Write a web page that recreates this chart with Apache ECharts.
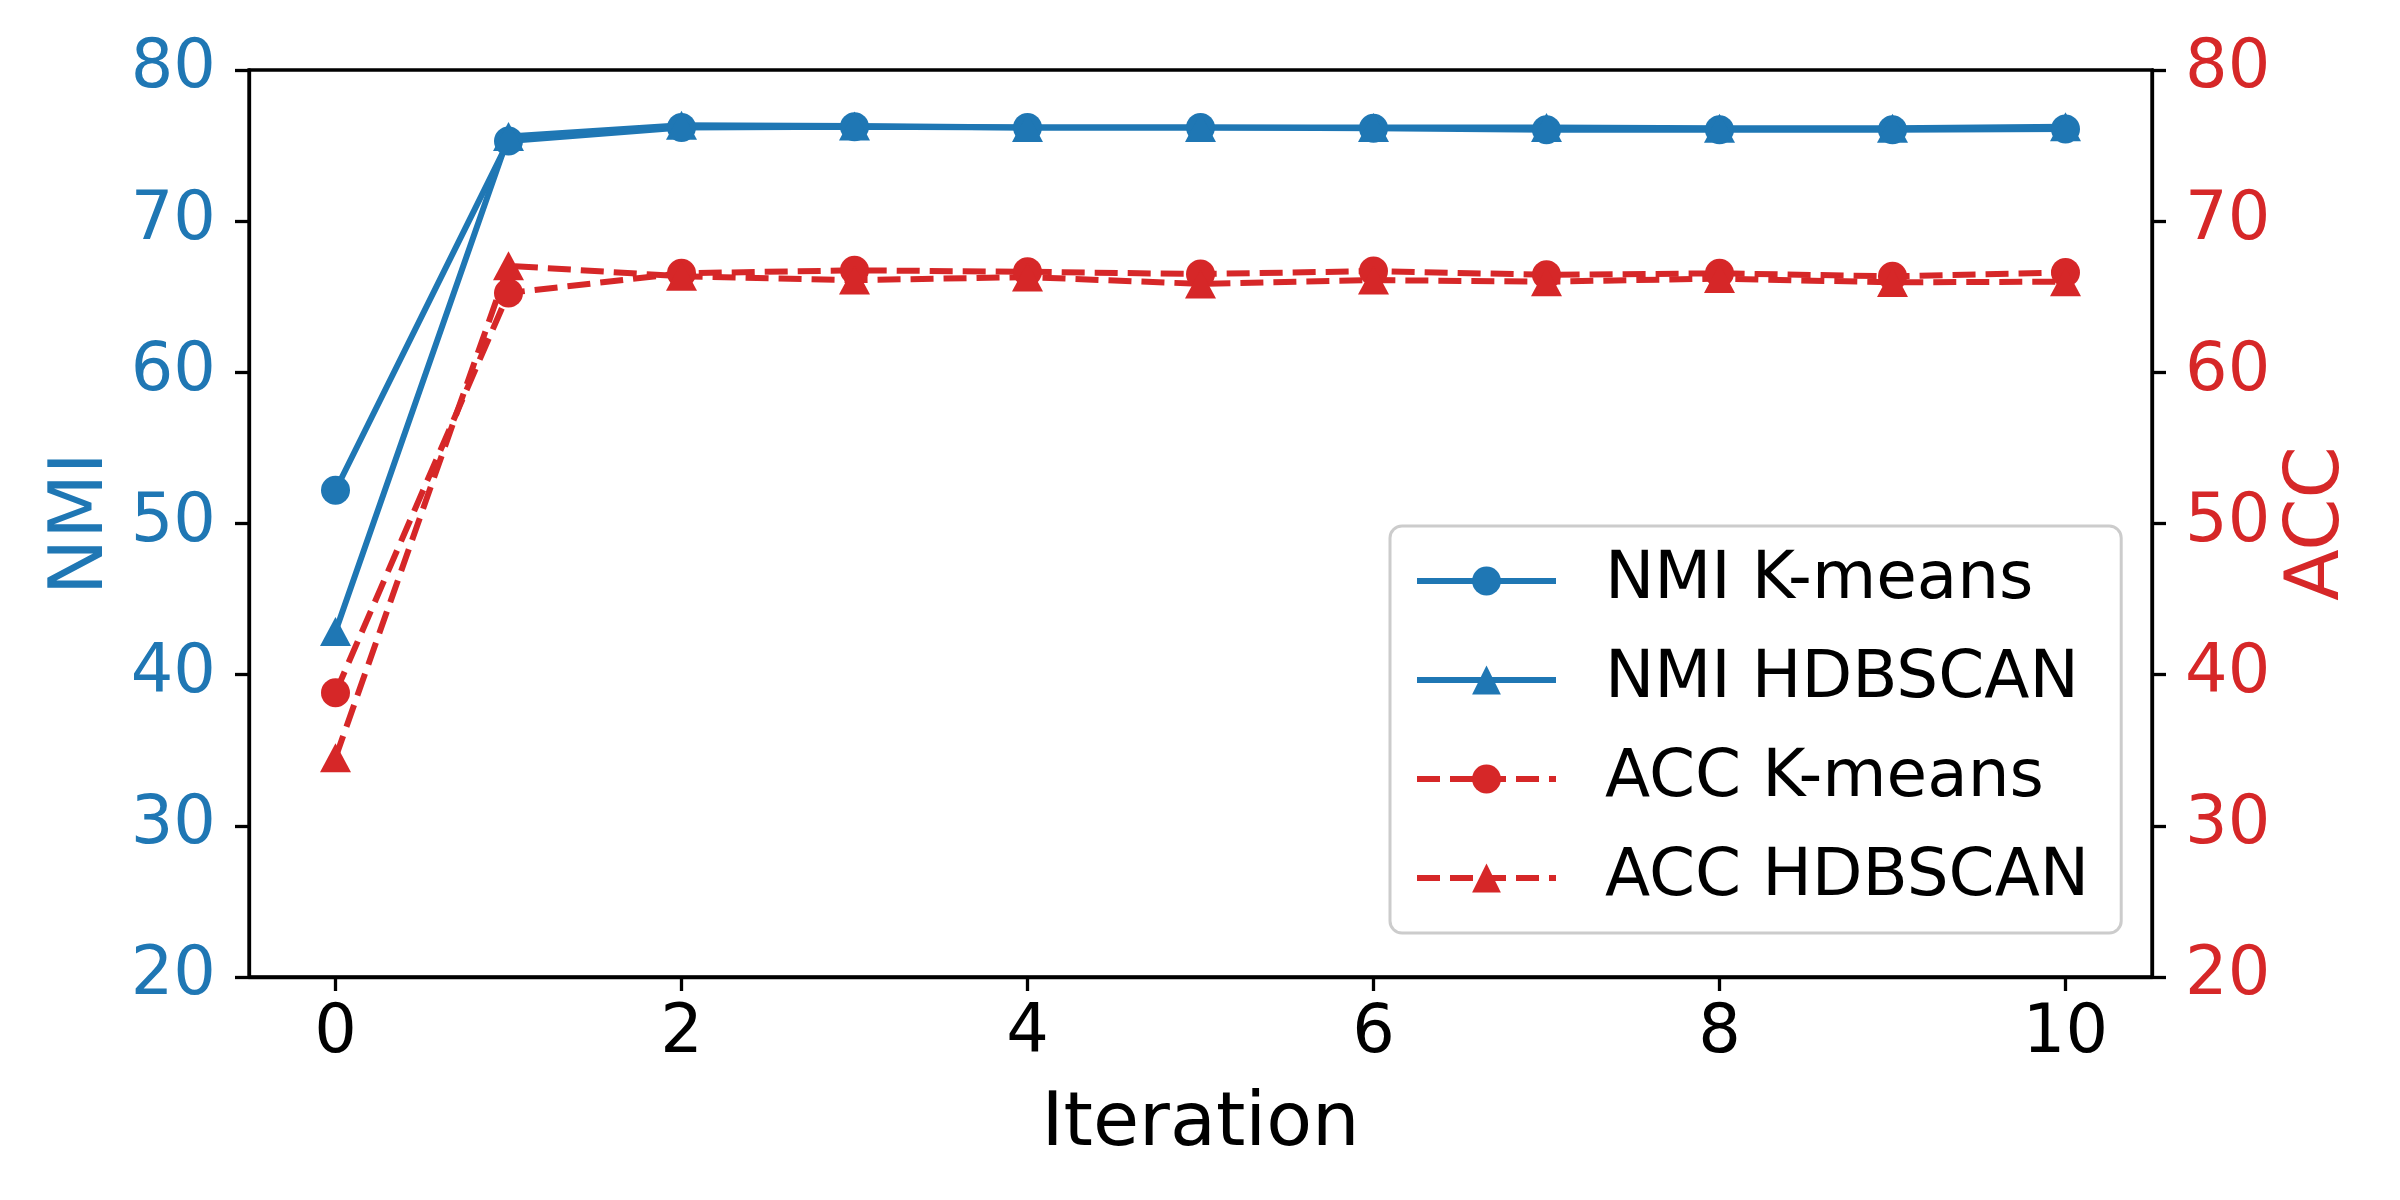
<!DOCTYPE html>
<html>
<head>
<meta charset="utf-8">
<script src="https://cdn.jsdelivr.net/npm/echarts@6/dist/echarts.min.js"></script>
<style>
html,body{margin:0;padding:0;background:#fff;}
#chart{width:2400px;height:1200px;}
</style>
</head>
<body>
<div id="chart"></div>
<script>
const iterations = ['0','1','2','3','4','5','6','7','8','9','10'];
const nmiKmeans  = [52.2, 75.3, 76.2, 76.25, 76.2, 76.2, 76.15, 76.05, 76.05, 76.05, 76.1];
const nmiHdbscan = [42.85, 75.6, 76.35, 76.3, 76.2, 76.2, 76.2, 76.2, 76.15, 76.15, 76.25];
const accKmeans  = [38.8, 65.25, 66.55, 66.75, 66.65, 66.5, 66.7, 66.45, 66.55, 66.35, 66.6];
const accHdbscan = [34.5, 67.05, 66.35, 66.1, 66.3, 65.85, 66.1, 66.0, 66.2, 65.95, 66.0];
const yTicks = [20, 30, 40, 50, 60, 70, 80];

const BLUE = '#1f77b4', RED = '#d62728';
const FONT = 'DejaVu Sans';
const chart = echarts.init(document.getElementById('chart'));

function yAxis(side, color, name) {
  return {
    type: 'value', position: side, min: yTicks[0], max: yTicks[yTicks.length-1], interval: 10,
    name: name, nameLocation: 'middle', nameGap: side === 'left' ? 116 : 115,
    nameTextStyle: {color: color, fontSize: 75, fontFamily: FONT},
    axisLine: {show: true, lineStyle: {color: '#000', width: 3.3}},
    axisTick: {show: true, length: 14, lineStyle: {color: '#000', width: 3.3}},
    axisLabel: {color: color, fontSize: 67, fontFamily: FONT, margin: 33},
    splitLine: {show: false}
  };
}

const lineW = 6;
function series(name, data, yIdx, color, symbol, dashed) {
  return {
    name: name, type: 'line', data: data, yAxisIndex: yIdx,
    symbol: symbol, symbolSize: symbol === 'circle' ? 29 : [31, 29],
    showAllSymbol: true,
    itemStyle: {color: color},
    lineStyle: {color: color, width: lineW, type: dashed ? [23, 10] : 'solid', cap: 'butt'},
    emphasis: {disabled: true}, animation: false
  };
}

chart.setOption({
  animation: false,
  backgroundColor: '#fff',
  grid: {left: 249, right: 248, top: 70, bottom: 223, show: true, borderColor: '#000', borderWidth: 3.3, backgroundColor: 'transparent'},
  xAxis: {
    type: 'category', data: iterations, boundaryGap: true,
    name: 'Iteration', nameLocation: 'middle', nameGap: 111,
    nameTextStyle: {color: '#000', fontSize: 75, fontFamily: FONT},
    axisLine: {show: true, lineStyle: {color: '#000', width: 3.3}},
    axisTick: {show: true, alignWithLabel: true, interval: 1, length: 14, lineStyle: {color: '#000', width: 3.3}},
    axisLabel: {interval: 1, color: '#000', fontSize: 67, fontFamily: FONT, margin: 24},
    splitLine: {show: false}
  },
  yAxis: [yAxis('left', BLUE, 'NMI'), yAxis('right', RED, 'ACC')],
  legend: {
    orient: 'vertical', left: 1390, top: 526,
    padding: [22, 32, 22, 24], itemGap: 33, itemWidth: 139, itemHeight: 36,
    backgroundColor: '#fff', borderColor: '#cccccc', borderWidth: 3, borderRadius: 12,
    lineStyle: {width: lineW},
    textStyle: {fontSize: 66, fontFamily: FONT, color: '#000', lineHeight: 66, padding: [0, 0, 0, 44]},
    data: ['NMI K-means', 'NMI HDBSCAN', 'ACC K-means', 'ACC HDBSCAN'],
    selectedMode: false
  },
  series: [
    series('NMI K-means', nmiKmeans, 0, BLUE, 'circle', false),
    series('NMI HDBSCAN', nmiHdbscan, 0, BLUE, 'triangle', false),
    series('ACC K-means', accKmeans, 1, RED, 'circle', true),
    series('ACC HDBSCAN', accHdbscan, 1, RED, 'triangle', true)
  ]
});
</script>
</body>
</html>
